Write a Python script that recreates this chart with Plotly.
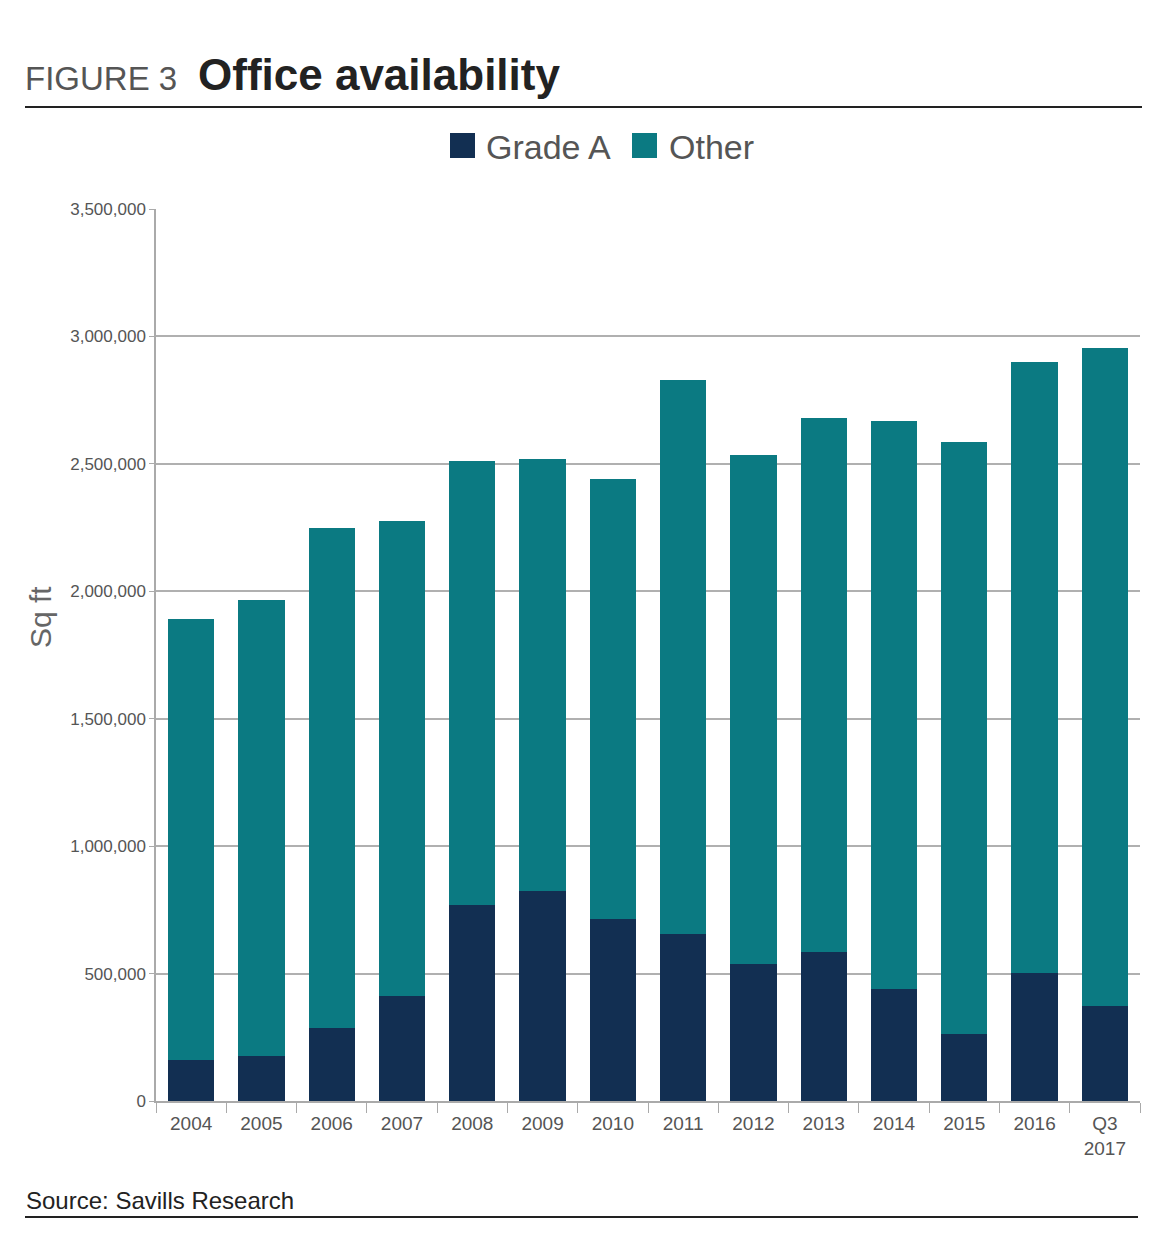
import plotly.graph_objects as go

categories = ["2004", "2005", "2006", "2007", "2008", "2009", "2010", "2011",
              "2012", "2013", "2014", "2015", "2016", "Q3<br>2017"]
grade_a = [161000, 176000, 286000, 412000, 769000, 824000, 714000, 655000,
           537000, 585000, 439000, 263000, 502000, 373000]
total = [1891000, 1965000, 2248000, 2275000, 2511000, 2519000, 2440000, 2829000,
         2534000, 2680000, 2668000, 2585000, 2899000, 2954000]
other = [t - g for t, g in zip(total, grade_a)]
y_ticks = [0, 500000, 1000000, 1500000, 2000000, 2500000, 3000000, 3500000]
series_names = ["Grade A", "Other"]

FONT = "Liberation Sans"
OFF = 8  # page body margin
W, H = 1168, 1244
# target plot area in page pixels: x 156..1140, y 209..1101
L, R, T, B = 156 - OFF, W - (1140 - OFF), 209 - OFF, H - (1101 - OFF)
PW, PH = W - L - R, H - T - B


def px(xabs):
    return (xabs - OFF - L) / PW


def py(yabs):
    return (H - B - (yabs - OFF)) / PH


GA_COL, OT_COL = "#122f52", "#0b7a82"

fig = go.Figure()
fig.add_trace(go.Bar(x=categories, y=grade_a, name=series_names[0],
                     marker=dict(color=GA_COL, line=dict(width=0))))
fig.add_trace(go.Bar(x=categories, y=other, name=series_names[1],
                     marker=dict(color=OT_COL, line=dict(width=0))))

fig.update_layout(
    width=W, height=H,
    barmode="stack", bargap=0.34,
    plot_bgcolor="white", paper_bgcolor="white",
    margin=dict(l=L, r=R, t=T, b=B),
    font=dict(family=FONT, color="#555555"),
    showlegend=False,
    xaxis=dict(showgrid=False, ticks="outside", tickson="boundaries",
               ticklen=10, tickcolor="#aaaaaa", showline=True,
               linecolor="#aaaaaa", linewidth=2, ticklabelstandoff=4,
               tickfont=dict(size=19, color="#555555")),
    yaxis=dict(range=[0, 3500000], tickvals=y_ticks,
               ticktext=[f"{v:,}" for v in y_ticks],
               showgrid=True, gridcolor="#b0b0b0", gridwidth=1.5,
               ticks="outside", ticklen=5, tickcolor="#aaaaaa",
               showline=True, linecolor="#aaaaaa", linewidth=1.5,
               zeroline=False,
               tickfont=dict(size=17, color="#555555")),
)

# Custom legend (large square swatches)
for nm, col, x0, xt in ((series_names[0], GA_COL, 450, 484),
                        (series_names[1], OT_COL, 632, 667)):
    fig.add_shape(type="rect", xref="paper", yref="paper",
                  x0=px(x0), x1=px(x0 + 25), y0=py(158), y1=py(133),
                  fillcolor=col, line=dict(width=0))
    fig.add_annotation(xref="paper", yref="paper", x=px(xt), y=py(147),
                       xanchor="left", yanchor="middle", showarrow=False,
                       text=nm, font=dict(family=FONT, size=34, color="#555555"))

# Title
fig.add_annotation(xref="paper", yref="paper", x=px(23), y=py(78),
                   xanchor="left", yanchor="middle", showarrow=False,
                   text="FIGURE 3",
                   font=dict(family=FONT, size=33, color="#555555"))
fig.add_annotation(xref="paper", yref="paper", x=px(196), y=py(75),
                   xanchor="left", yanchor="middle", showarrow=False,
                   text="<b>Office availability</b>",
                   font=dict(family=FONT, size=44, color="#222222"))
# Y axis title
fig.add_annotation(xref="paper", yref="paper", x=px(40), y=py(617),
                   xanchor="center", yanchor="middle",
                   showarrow=False, text="Sq ft", textangle=-90,
                   font=dict(family=FONT, size=30, color="#666666"))
# Source
fig.add_annotation(xref="paper", yref="paper", x=px(24), y=py(1200),
                   xanchor="left", yanchor="middle",
                   showarrow=False, text="Source: Savills Research",
                   font=dict(family=FONT, size=24, color="#222222"))

# Rules
fig.add_shape(type="line", xref="paper", yref="paper",
              x0=px(25), x1=px(1142), y0=py(107), y1=py(107),
              line=dict(color="#222222", width=2))
fig.add_shape(type="line", xref="paper", yref="paper",
              x0=px(25), x1=px(1138), y0=py(1217), y1=py(1217),
              line=dict(color="#222222", width=2))

fig.write_html("out.html")
